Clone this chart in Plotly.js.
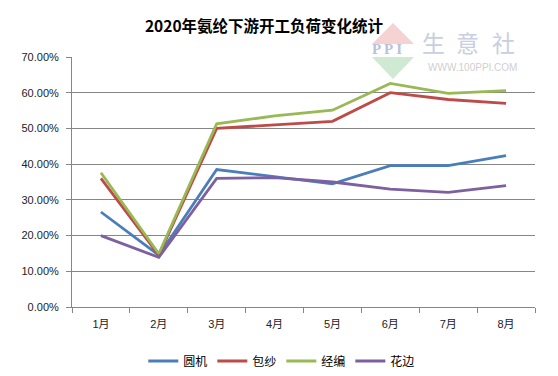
<!DOCTYPE html>
<html>
<head>
<meta charset="utf-8">
<script src="https://cdn.plot.ly/plotly-3.0.1.min.js"></script>
<style>html,body{margin:0;padding:0;background:#fff;}#chart{width:558px;height:376px;}</style>
</head>
<body>
<div id="chart"></div>
<script>
const months = ["1月","2月","3月","4月","5月","6月","7月","8月"];
const yuanji = [0.266, 0.145, 0.385, 0.364, 0.345, 0.396, 0.396, 0.424];
const baosha = [0.360, 0.145, 0.500, 0.510, 0.520, 0.600, 0.581, 0.570];
const jingbian = [0.376, 0.149, 0.513, 0.535, 0.551, 0.626, 0.598, 0.606];
const huabian = [0.200, 0.139, 0.360, 0.362, 0.350, 0.330, 0.321, 0.340];
const seriesNames = ["圆机","包纱","经编","花边"];
const colors = ["#4A7EBB","#BE4B48","#98B954","#7D60A0"];
const yTicks = [0,0.1,0.2,0.3,0.4,0.5,0.6,0.7];

const data = [yuanji, baosha, jingbian, huabian].map((v,i)=>({
  x: months, y: v, type: "scatter", mode: "lines", name: seriesNames[i],
  line: {color: colors[i], width: 2.8}
}));

const font = "Arial, 'Liberation Sans', 'Noto Sans CJK SC', sans-serif";
const wm = "#c8cfe0";
const px = v => (v - 72) / 463;
const py = v => (307 - v) / 250;
const layout = {
  width: 558, height: 376,
  margin: {l: 72, r: 23, t: 57, b: 69},
  paper_bgcolor: "#fff", plot_bgcolor: "#fff",
  font: {family: font, size: 11, color: "#222"},
  title: {text: "<b>2020年氨纶下游开工负荷变化统计</b>", xref: "container", yref: "container",
    x: 264/558, xanchor: "center", y: 1 - 27/376, yanchor: "middle",
    font: {family: "'Noto Sans CJK SC', sans-serif", size: 15.5, color: "#000"}},
  xaxis: {type: "category", showgrid: false, showline: true, linecolor: "#868686", linewidth: 1,
    ticks: "outside", tickson: "boundaries", ticklen: 5, tickcolor: "#868686", ticklabelstandoff: 7,
    tickfont: {size: 11, color: "#222"}, range: [-0.5, 7.5]},
  yaxis: {range: [0, 0.7], tickvals: yTicks, tickformat: ".2%", showgrid: true, gridcolor: "#868686", gridwidth: 1,
    showline: true, linecolor: "#868686", ticks: "outside", ticklen: 5, tickcolor: "#868686", ticklabelstandoff: 5,
    zeroline: false, tickfont: {size: 11, color: "#222"}},
  showlegend: true,
  legend: {orientation: "h", xref: "container", yref: "container", x: 0.505, xanchor: "center",
    y: 15/376, yanchor: "middle",
    font: {size: 12, color: "#000"}, itemwidth: 30},
  shapes: [
    {type: "path", xref: "paper", yref: "paper",
      path: `M ${px(393)} ${py(23)} L ${px(372)} ${py(44)} L ${px(414)} ${py(44)} Z`, fillcolor: "#f5d3d3", line: {width: 0}, layer: "below"},
    {type: "path", xref: "paper", yref: "paper",
      path: `M ${px(393)} ${py(79)} L ${px(372)} ${py(57)} L ${px(414)} ${py(57)} Z`, fillcolor: "#cfe9d2", line: {width: 0}, layer: "below"}
  ],
  annotations: [
    {text: "<b>P P I</b>", xref: "paper", yref: "paper", x: px(387), y: py(49), xanchor: "center", yanchor: "middle", showarrow: false,
      font: {family: "'Liberation Serif', serif", size: 15, color: "#b8c2dc"}},
    {text: "生", xref: "paper", yref: "paper", x: px(433), y: py(42), xanchor: "center", yanchor: "middle", showarrow: false,
      font: {family: "'Noto Sans CJK SC', sans-serif", size: 23, color: wm}},
    {text: "意", xref: "paper", yref: "paper", x: px(467), y: py(42), xanchor: "center", yanchor: "middle", showarrow: false,
      font: {family: "'Noto Sans CJK SC', sans-serif", size: 23, color: wm}},
    {text: "社", xref: "paper", yref: "paper", x: px(503), y: py(42), xanchor: "center", yanchor: "middle", showarrow: false,
      font: {family: "'Noto Sans CJK SC', sans-serif", size: 23, color: wm}},
    {text: "WWW.100PPI.COM", xref: "paper", yref: "paper", x: px(472), y: py(67), xanchor: "center", yanchor: "middle", showarrow: false,
      font: {family: "Arial, sans-serif", size: 10, color: "#cfcfcf"}}
  ]
};
Plotly.newPlot("chart", data, layout, {displayModeBar: false, staticPlot: true});
</script>
</body>
</html>
